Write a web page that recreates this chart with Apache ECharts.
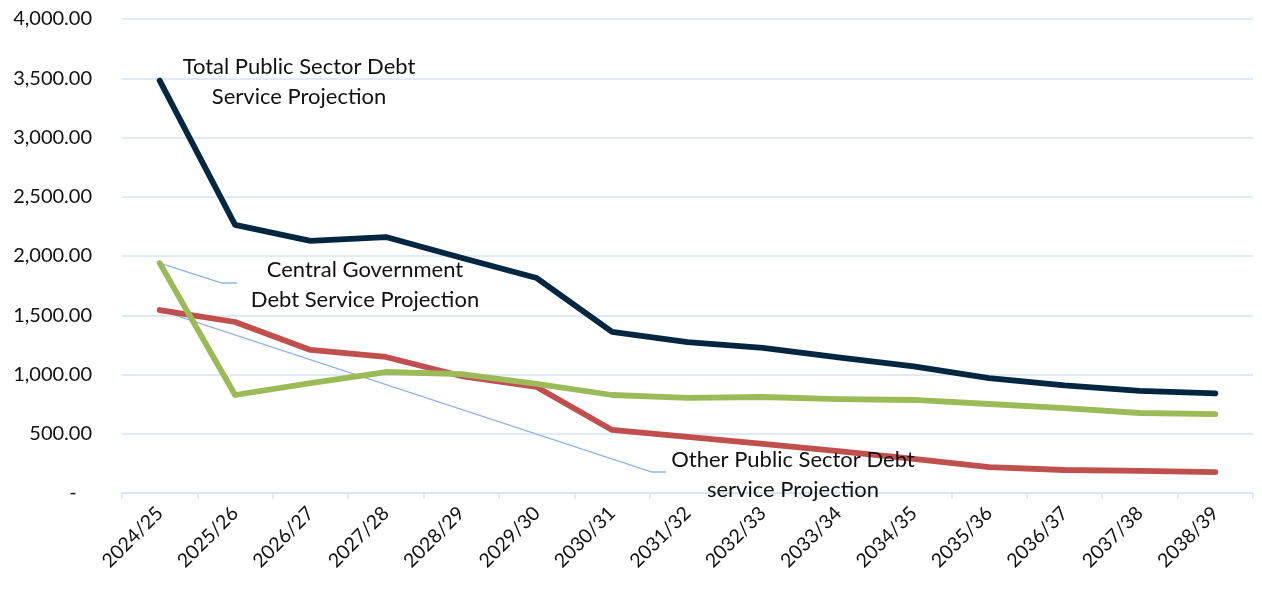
<!DOCTYPE html>
<html>
<head>
<meta charset="utf-8">
<script src="https://cdn.jsdelivr.net/npm/echarts@6/dist/echarts.min.js"></script>
<style>
  html, body { margin: 0; padding: 0; background: #fff; }
  #chart { width: 1262px; height: 589px; }
</style>
</head>
<body>
<div id="chart"></div>
<script>
// Fiscal years of the projection horizon
const years = ['2024/25', '2025/26', '2026/27', '2027/28', '2028/29', '2029/30', '2030/31',
  '2031/32', '2032/33', '2033/34', '2034/35', '2035/36', '2036/37', '2037/38', '2038/39'];

// Debt service projections
const totalPublic = [3480, 2262, 2127, 2160, 1985, 1814, 1359, 1274, 1224, 1145, 1068, 970, 908, 861, 840];
const centralGov = [1940, 827, 928, 1021, 1004, 920, 827, 802, 810, 793, 785, 751, 717, 675, 665];
const otherPublic = [1544, 1443, 1207, 1148, 987, 895, 532, 473, 414, 354, 287, 219, 194, 186, 177];

// Y axis range and step
const yMin = 0;
const yMax = 4000;
const yStep = 500;

const FONT = 'Lato, "Open Sans", sans-serif';
const GRID_COLOR = '#d6e3f3';
const TEXT_COLOR = '#111111';

// Accounting-style number format: zero shown as a dash
function fmtY(v) {
  if (v === 0) return '-   ';
  return v.toLocaleString('en-US', { minimumFractionDigits: 2, maximumFractionDigits: 2 });
}

const chart = echarts.init(document.getElementById('chart'));

function lineSeries(name, data, color) {
  return {
    name: name,
    type: 'line',
    data: data,
    symbol: 'none',
    smooth: false,
    lineStyle: { width: 5.8, color: color, cap: 'round', join: 'round' },
    itemStyle: { color: color },
    z: 3
  };
}

chart.setOption({
  animation: false,
  textStyle: { fontFamily: FONT },
  grid: { left: 122, right: 9, top: 19, bottom: 96, containLabel: false },
  xAxis: {
    type: 'category',
    data: years,
    boundaryGap: true,
    axisLine: { show: true, lineStyle: { color: GRID_COLOR, width: 1.5 } },
    axisTick: { show: true, length: 6, lineStyle: { color: GRID_COLOR, width: 1.5 } },
    axisLabel: {
      rotate: 45,
      color: TEXT_COLOR,
      fontSize: 19.5,
      fontFamily: FONT,
      margin: 17,
      interval: 0
    },
    splitLine: { show: false }
  },
  yAxis: {
    type: 'value',
    min: yMin,
    max: yMax,
    interval: yStep,
    axisLine: { show: false },
    axisTick: { show: false },
    axisLabel: {
      formatter: fmtY,
      color: TEXT_COLOR,
      fontSize: 20,
      fontFamily: FONT,
      margin: 30
    },
    splitLine: { show: true, lineStyle: { color: GRID_COLOR, width: 1.5 } }
  },
  series: [
    lineSeries('Total Public Sector Debt Service Projection', totalPublic, '#042641'),
    lineSeries('Other Public Sector Debt service Projection', otherPublic, '#c0504d'),
    lineSeries('Central Government Debt Service Projection', centralGov, '#9bbb59')
  ]
});

// Callout labels with leader lines anchored on the first data point of each series
function drawCallouts() {
  const pCentral = chart.convertToPixel({ xAxisIndex: 0, yAxisIndex: 0 }, [0, centralGov[0]]);
  const pOther = chart.convertToPixel({ xAxisIndex: 0, yAxisIndex: 0 }, [0, otherPublic[0]]);
  const leader = { stroke: '#8fb4e3', lineWidth: 1.3, fill: null };
  const txt = (x, y, s) => ({
    type: 'text',
    x: x, y: y,
    style: {
      text: s,
      fill: TEXT_COLOR,
      font: '22px ' + FONT,
      textAlign: 'center',
      textVerticalAlign: 'top',
      lineHeight: 30
    },
    z: 10
  });
  chart.setOption({
    graphic: [
      txt(299, 52, 'Total Public Sector Debt\nService Projection'),
      {
        type: 'polyline',
        shape: { points: [pCentral, [222, 283], [237, 283]] },
        style: leader, z: 2
      },
      txt(365, 255, 'Central Government\nDebt Service Projection'),
      {
        type: 'polyline',
        shape: { points: [pOther, [652, 472], [666, 472]] },
        style: leader, z: 2
      },
      txt(793, 445, 'Other Public Sector Debt\nservice Projection')
    ]
  });
}
drawCallouts();
</script>
</body>
</html>
